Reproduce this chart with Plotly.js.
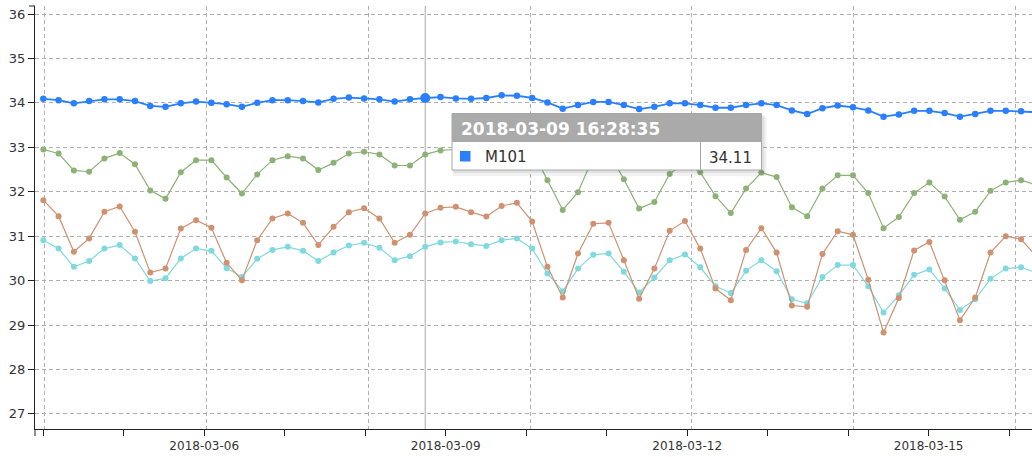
<!DOCTYPE html>
<html>
<head>
<meta charset="utf-8">
<script src="https://cdn.plot.ly/plotly-3.0.1.min.js"></script>
<style>
  html, body { margin: 0; padding: 0; background: #fff; }
  #chart { width: 1032px; height: 457px; }
</style>
</head>
<body>
<div id="chart"></div>
<script>
// ---------------- data ----------------
const times = [
  '2018-03-04 23:08:35','2018-03-05 03:40:35','2018-03-05 08:12:35','2018-03-05 12:44:35','2018-03-05 17:16:35','2018-03-05 21:48:35',
  '2018-03-06 02:20:35','2018-03-06 06:52:35','2018-03-06 11:24:35','2018-03-06 15:56:35','2018-03-06 20:28:35',
  '2018-03-07 01:00:35','2018-03-07 05:32:35','2018-03-07 10:04:35','2018-03-07 14:36:35','2018-03-07 19:08:35','2018-03-07 23:40:35',
  '2018-03-08 04:12:35','2018-03-08 08:44:35','2018-03-08 13:16:35','2018-03-08 17:48:35','2018-03-08 22:20:35',
  '2018-03-09 02:52:35','2018-03-09 07:24:35','2018-03-09 11:56:35','2018-03-09 16:28:35','2018-03-09 21:00:35',
  '2018-03-10 01:32:35','2018-03-10 06:04:35','2018-03-10 10:36:35','2018-03-10 15:08:35','2018-03-10 19:40:35',
  '2018-03-11 00:12:35','2018-03-11 04:44:35','2018-03-11 09:16:35','2018-03-11 13:48:35','2018-03-11 18:20:35','2018-03-11 22:52:35',
  '2018-03-12 03:24:35','2018-03-12 07:56:35','2018-03-12 12:28:35','2018-03-12 17:00:35','2018-03-12 21:32:35',
  '2018-03-13 02:04:35','2018-03-13 06:36:35','2018-03-13 11:08:35','2018-03-13 15:40:35','2018-03-13 20:12:35',
  '2018-03-14 00:44:35','2018-03-14 05:16:35','2018-03-14 09:48:35','2018-03-14 14:20:35','2018-03-14 18:52:35','2018-03-14 23:24:35',
  '2018-03-15 03:56:35','2018-03-15 08:28:35','2018-03-15 13:00:35','2018-03-15 17:32:35','2018-03-15 22:04:35',
  '2018-03-16 02:36:35','2018-03-16 07:08:35','2018-03-16 11:40:35','2018-03-16 16:12:35','2018-03-16 20:44:35',
  '2018-03-17 01:16:35','2018-03-17 05:48:35'
];

const m101 = [
  34.09,34.06,33.99,34.04,34.08,34.08,34.04,33.93,33.91,33.99,34.03,34.00,33.97,33.91,34.00,34.06,34.06,34.04,34.01,34.09,
  34.12,34.10,34.08,34.03,34.08,34.11,34.13,34.10,34.09,34.11,34.17,34.16,34.11,34.01,33.87,33.95,34.02,34.02,33.95,33.86,
  33.91,33.99,33.99,33.95,33.89,33.89,33.95,33.99,33.95,33.83,33.75,33.88,33.94,33.90,33.83,33.69,33.74,33.82,33.82,33.77,
  33.69,33.75,33.82,33.82,33.81,33.79
];

const seriesGreen = [
  32.95,32.86,32.48,32.45,32.75,32.87,32.62,32.03,31.84,32.44,32.71,32.71,32.32,31.96,32.39,32.71,32.80,32.75,32.49,32.65,
  32.86,32.90,32.84,32.59,32.59,32.84,32.93,32.95,32.94,32.90,32.96,32.96,32.93,32.26,31.59,31.99,32.78,32.90,32.28,31.62,
  31.77,32.40,32.65,32.44,31.90,31.52,32.07,32.43,32.33,31.65,31.45,32.07,32.37,32.37,31.97,31.18,31.43,31.97,32.21,31.89,
  31.37,31.55,32.02,32.21,32.26,32.15
];

const seriesOrange = [
  31.81,31.45,30.65,30.95,31.55,31.67,31.10,30.18,30.27,31.17,31.36,31.19,30.40,30.01,30.91,31.40,31.51,31.30,30.80,31.21,
  31.54,31.63,31.40,30.85,31.03,31.51,31.64,31.66,31.54,31.44,31.68,31.75,31.33,30.31,29.62,30.61,31.28,31.30,30.46,29.59,
  30.27,31.12,31.34,30.72,29.82,29.56,30.69,31.18,30.63,29.44,29.41,30.60,31.11,31.03,30.02,28.83,29.61,30.68,30.87,30.01,
  29.11,29.62,30.63,31.00,30.93,30.55
];

const seriesCyan = [
  30.91,30.72,30.31,30.44,30.72,30.80,30.50,29.99,30.05,30.50,30.72,30.67,30.28,30.08,30.49,30.69,30.76,30.67,30.44,30.63,
  30.79,30.85,30.74,30.46,30.55,30.76,30.86,30.88,30.82,30.78,30.91,30.95,30.72,30.16,29.76,30.27,30.58,30.61,30.20,29.73,
  30.07,30.46,30.59,30.30,29.87,29.72,30.22,30.46,30.21,29.58,29.49,30.08,30.35,30.35,29.87,29.28,29.67,30.13,30.25,29.82,
  29.34,29.58,30.04,30.27,30.30,30.18
];

const tickVals = [
  '2018-03-04 23:08','2018-03-05 23:01','2018-03-06 22:54','2018-03-07 22:47','2018-03-08 22:40','2018-03-09 22:33',
  '2018-03-10 22:26','2018-03-11 22:19','2018-03-12 22:12','2018-03-13 22:05','2018-03-14 21:58','2018-03-15 21:51','2018-03-16 21:44'
];
const tickText = ['', '', '2018-03-06', '', '', '2018-03-09', '', '', '2018-03-12', '', '', '2018-03-15', ''];

const hoverIndex = 25;
const hoverSeriesName = 'M101';
const hoverTimeLabel = '2018-03-09 16:28:35';

// ---------------- styles ----------------
const C_BLUE = '#2a7fff', C_GREEN = '#8cb276', C_ORANGE = '#cf9170', C_CYAN = '#7fd9df';
const FONT = 'DejaVu Sans, Verdana, sans-serif';

// plot area in pixels (for tooltip placement)
const PL = 35, PR = 1032, PT = 6, PB = 429;
const px = x => (x - PL) / (PR - PL);
const py = y => (PB - y) / (PB - PT);

function series(name, y, color, lw, ms) {
  return {
    type: 'scatter', mode: 'lines+markers', name: name, x: times, y: y,
    line: { color: color, width: lw },
    marker: { color: color, size: ms, line: { width: 0 } },
    hoverinfo: 'skip'
  };
}

const traces = [
  series('series4', seriesCyan, C_CYAN, 1.2, 6),
  series('series3', seriesOrange, C_ORANGE, 1.2, 6),
  series('series2', seriesGreen, C_GREEN, 1.2, 6),
  series(hoverSeriesName, m101, C_BLUE, 1.8, 6.5),
  {
    type: 'scatter', mode: 'markers', name: hoverSeriesName + ' (hover)',
    x: [times[hoverIndex]], y: [m101[hoverIndex]],
    marker: { color: C_BLUE, size: 10, line: { width: 0 } }, hoverinfo: 'skip'
  }
];

// tooltip geometry (pixels)
const tt = { l: 452, r: 761.5, t: 113.5, h: 141.5, b: 170, div: 700.5 };

const shapes = [
  // hover guide line
  { type: 'line', xref: 'x', yref: 'paper', x0: times[hoverIndex], x1: times[hoverIndex], y0: 0, y1: 1,
    line: { color: '#aaa', width: 1 }, layer: 'below' },
  // axis outer ticks
  { type: 'line', xref: 'paper', yref: 'paper', x0: 0, x1: 0, y0: 0, y1: py(436), line: { color: '#222', width: 1 } },
  { type: 'line', xref: 'paper', yref: 'paper', x0: px(29), x1: 0, y0: 1, y1: 1, line: { color: '#222', width: 1 } },
  // tooltip shadow
  { type: 'rect', xref: 'paper', yref: 'paper', x0: px(tt.l + 1), x1: px(tt.r + 5), y0: py(tt.b + 6), y1: py(tt.t + 3),
    fillcolor: 'rgba(0,0,0,0.05)', line: { width: 0 } },
  { type: 'rect', xref: 'paper', yref: 'paper', x0: px(tt.l + 1), x1: px(tt.r + 3), y0: py(tt.b + 3), y1: py(tt.t + 2),
    fillcolor: 'rgba(0,0,0,0.07)', line: { width: 0 } },
  // tooltip body
  { type: 'rect', xref: 'paper', yref: 'paper', x0: px(tt.l), x1: px(tt.r), y0: py(tt.b), y1: py(tt.h),
    fillcolor: '#ffffff', line: { color: '#a8a8a8', width: 1 } },
  // tooltip header
  { type: 'rect', xref: 'paper', yref: 'paper', x0: px(tt.l), x1: px(tt.r), y0: py(tt.h), y1: py(tt.t),
    fillcolor: '#aaaaaa', line: { color: '#a8a8a8', width: 1 } },
  // value cell divider
  { type: 'line', xref: 'paper', yref: 'paper', x0: px(tt.div), x1: px(tt.div), y0: py(tt.b), y1: py(tt.h),
    line: { color: '#a8a8a8', width: 1 } },
  // colour square
  { type: 'rect', xref: 'paper', yref: 'paper', x0: px(460), x1: px(470.5), y0: py(161.5), y1: py(151),
    fillcolor: C_BLUE, line: { width: 0 } }
];

const annotations = [
  { xref: 'paper', yref: 'paper', x: px(459), y: py(129), xanchor: 'left', yanchor: 'middle', showarrow: false,
    text: '<b>' + hoverTimeLabel + '</b>', font: { family: FONT, size: 17, color: '#ffffff' } },
  { xref: 'paper', yref: 'paper', x: px(483), y: py(157), xanchor: 'left', yanchor: 'middle', showarrow: false,
    text: hoverSeriesName, font: { family: FONT, size: 15, color: '#333333' } },
  { xref: 'paper', yref: 'paper', x: px(754), y: py(157.5), xanchor: 'right', yanchor: 'middle', showarrow: false,
    text: m101[hoverIndex].toFixed(2), font: { family: FONT, size: 15, color: '#333333' } }
];

const layout = {
  width: 1032, height: 457,
  margin: { l: PL, r: 1032 - PR, t: PT, b: 457 - PB, pad: 0 },
  paper_bgcolor: '#ffffff', plot_bgcolor: '#ffffff',
  showlegend: false,
  font: { family: FONT, size: 12, color: '#333' },
  xaxis: {
    type: 'date',
    range: ['2018-03-04 20:40:47', '2018-03-17 04:31:35'],
    tickmode: 'array', tickvals: tickVals, ticktext: tickText,
    ticks: 'outside', ticklen: 6, tickcolor: '#222', tickwidth: 1,
    showline: true, linecolor: '#222', linewidth: 1,
    showgrid: false, zeroline: false,
    tickfont: { family: FONT, size: 12, color: '#333' },
    minor: {
      tick0: '2018-03-04 23:38:00', dtick: 172800000,
      showgrid: true, gridcolor: '#b0b0b0', gridwidth: 1, griddash: '4px,3px', ticks: ''
    },
    fixedrange: true
  },
  yaxis: {
    range: [26.66, 36.18],
    tickmode: 'linear', tick0: 27, dtick: 1,
    ticks: 'outside', ticklen: 6, tickcolor: '#222', tickwidth: 1,
    showline: true, linecolor: '#222', linewidth: 1,
    showgrid: true, gridcolor: '#b0b0b0', gridwidth: 1, griddash: '4px,3px',
    zeroline: false,
    tickfont: { family: FONT, size: 13, color: '#333' },
    fixedrange: true
  },
  shapes: shapes,
  annotations: annotations,
  hovermode: false
};

Plotly.newPlot('chart', traces, layout, { displayModeBar: false, staticPlot: true });
</script>
</body>
</html>
